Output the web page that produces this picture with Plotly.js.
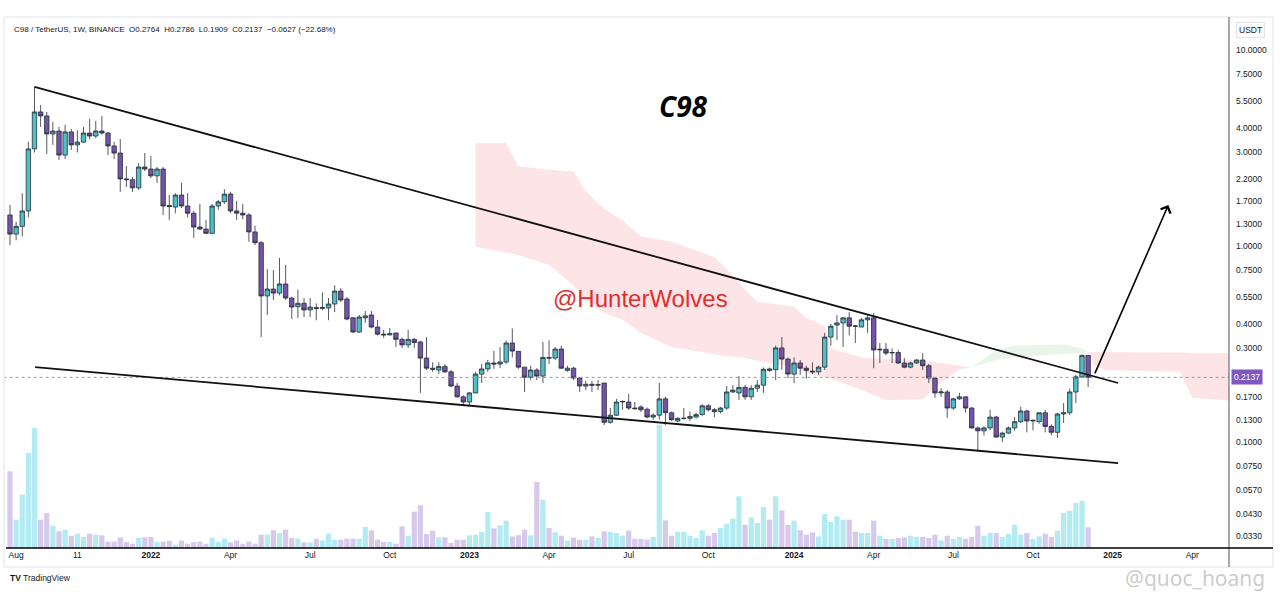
<!DOCTYPE html>
<html><head><meta charset="utf-8">
<script src="https://cdn.plot.ly/plotly-3.0.1.min.js"></script>
<style>html,body{margin:0;padding:0;background:#fff;}#chart{width:1280px;height:592px;}</style>
</head><body><div id="chart"></div>
<script>
// ---------- DATA (weekly candles, first bar = week of 2021-07-19) ----------
const firstWeekUTC = [2021, 6, 19];
const open = [1.44,1.15,1.26,1.51,3.13,4.83,4.61,3.73,3.86,2.91,
 3.82,3.28,3.39,3.77,3.64,3.86,3.77,3.24,2.98,2.20,
 2.18,1.98,2.53,2.47,2.28,2.47,1.61,1.58,1.82,1.60,
 1.47,1.25,1.22,1.16,1.60,1.68,1.84,1.51,1.47,1.44,
 1.18,1.04,0.556,0.603,0.575,0.64,0.543,0.49,0.51,0.472,
 0.485,0.48,0.483,0.506,0.589,0.536,0.43,0.364,0.43,0.445,
 0.386,0.355,0.352,0.36,0.334,0.313,0.334,0.324,0.268,0.238,
 0.233,0.243,0.228,0.193,0.17,0.16,0.178,0.222,0.236,0.253,
 0.25,0.256,0.32,0.29,0.241,0.214,0.233,0.217,0.27,0.268,
 0.298,0.232,0.238,0.212,0.193,0.197,0.195,0.20,0.126,0.137,
 0.16,0.16,0.149,0.151,0.147,0.134,0.137,0.166,0.141,0.128,
 0.132,0.132,0.134,0.138,0.153,0.146,0.143,0.149,0.18,0.178,
 0.19,0.17,0.188,0.195,0.236,0.234,0.302,0.265,0.222,0.253,
 0.238,0.23,0.228,0.241,0.343,0.395,0.405,0.43,0.391,0.386,
 0.42,0.43,0.295,0.297,0.285,0.286,0.253,0.241,0.253,0.262,
 0.245,0.212,0.178,0.18,0.149,0.166,0.17,0.149,0.118,0.114,
 0.118,0.134,0.106,0.111,0.118,0.127,0.144,0.128,0.127,0.141,
 0.12,0.112,0.139,0.141,0.18,0.215,0.2764];
const high = [1.62,1.33,1.86,3.40,6.48,5.24,4.83,4.29,4.05,4.15,
 3.95,3.90,4.05,4.45,4.35,4.60,3.82,3.40,3.51,2.56,
 2.25,2.65,2.98,2.88,2.53,2.53,1.82,1.86,2.10,1.86,
 1.51,1.64,1.36,1.64,1.72,1.95,1.89,1.70,1.64,1.47,
 1.27,1.06,0.763,0.754,0.869,0.80,0.55,0.60,0.543,0.543,
 0.51,0.58,0.543,0.63,0.61,0.55,0.434,0.445,0.466,0.466,
 0.42,0.373,0.382,0.36,0.34,0.373,0.34,0.328,0.343,0.255,
 0.255,0.25,0.233,0.20,0.173,0.18,0.228,0.25,0.262,0.292,
 0.305,0.33,0.38,0.29,0.241,0.245,0.238,0.324,0.33,0.305,
 0.31,0.245,0.242,0.214,0.205,0.205,0.207,0.20,0.149,0.166,
 0.163,0.176,0.16,0.154,0.15,0.14,0.20,0.17,0.143,0.134,
 0.149,0.143,0.141,0.156,0.156,0.149,0.151,0.193,0.195,0.217,
 0.195,0.195,0.207,0.24,0.24,0.31,0.343,0.27,0.27,0.262,
 0.245,0.255,0.245,0.36,0.40,0.445,0.434,0.46,0.395,0.43,
 0.445,0.455,0.32,0.32,0.30,0.295,0.268,0.256,0.265,0.284,
 0.25,0.214,0.188,0.184,0.168,0.178,0.17,0.151,0.12,0.12,
 0.146,0.136,0.113,0.12,0.134,0.151,0.146,0.13,0.141,0.146,
 0.123,0.141,0.158,0.187,0.22,0.28,0.2786];
const low = [1.01,1.07,1.12,1.40,3.00,4.05,2.95,3.28,2.75,2.78,
 3.09,3.00,3.35,3.50,3.55,3.70,2.91,2.78,1.89,2.00,
 1.89,1.93,2.41,2.22,2.10,1.44,1.36,1.47,1.56,1.40,
 1.10,1.21,1.15,1.15,1.53,1.64,1.47,1.36,1.37,1.05,
 1.01,0.343,0.445,0.53,0.56,0.53,0.424,0.43,0.434,0.434,
 0.418,0.47,0.418,0.46,0.518,0.418,0.36,0.36,0.405,0.38,
 0.35,0.34,0.35,0.305,0.302,0.302,0.302,0.178,0.233,0.228,
 0.222,0.225,0.19,0.168,0.154,0.154,0.177,0.20,0.228,0.236,
 0.238,0.25,0.27,0.236,0.18,0.207,0.207,0.20,0.25,0.262,
 0.236,0.228,0.207,0.18,0.184,0.18,0.184,0.122,0.124,0.136,
 0.146,0.146,0.146,0.142,0.132,0.13,0.13,0.122,0.128,0.126,
 0.13,0.128,0.132,0.136,0.143,0.134,0.14,0.146,0.178,0.164,
 0.164,0.164,0.18,0.178,0.228,0.207,0.234,0.212,0.20,0.22,
 0.21,0.222,0.22,0.233,0.31,0.331,0.305,0.35,0.32,0.386,
 0.36,0.238,0.253,0.277,0.253,0.25,0.238,0.238,0.25,0.233,
 0.20,0.168,0.17,0.133,0.146,0.164,0.141,0.117,0.091,0.108,
 0.115,0.105,0.10,0.11,0.114,0.125,0.112,0.115,0.124,0.112,
 0.108,0.105,0.125,0.137,0.158,0.212,0.1909];
const close = [1.15,1.26,1.51,3.13,4.83,4.61,3.73,3.86,2.91,3.82,
 3.28,3.39,3.77,3.64,3.86,3.77,3.24,2.98,2.20,2.18,
 1.98,2.53,2.47,2.28,2.47,1.60,1.59,1.82,1.60,1.47,
 1.25,1.22,1.16,1.60,1.68,1.84,1.51,1.47,1.44,1.18,
 1.04,0.556,0.603,0.575,0.64,0.543,0.488,0.51,0.472,0.488,
 0.48,0.485,0.506,0.589,0.53,0.424,0.364,0.434,0.44,0.386,
 0.355,0.352,0.357,0.334,0.313,0.334,0.322,0.268,0.238,0.235,
 0.243,0.228,0.193,0.17,0.16,0.178,0.222,0.236,0.253,0.25,
 0.256,0.32,0.291,0.241,0.214,0.233,0.217,0.27,0.268,0.298,
 0.238,0.238,0.212,0.193,0.197,0.195,0.196,0.126,0.137,0.16,
 0.161,0.149,0.148,0.146,0.134,0.137,0.166,0.141,0.13,0.132,
 0.132,0.135,0.138,0.153,0.146,0.143,0.149,0.18,0.184,0.19,
 0.17,0.188,0.195,0.235,0.232,0.302,0.265,0.222,0.253,0.238,
 0.232,0.228,0.241,0.343,0.39,0.405,0.43,0.39,0.39,0.42,
 0.43,0.295,0.297,0.284,0.286,0.253,0.241,0.253,0.262,0.245,
 0.212,0.178,0.18,0.149,0.166,0.17,0.149,0.118,0.114,0.118,
 0.134,0.106,0.111,0.118,0.127,0.144,0.128,0.129,0.141,0.12,
 0.112,0.139,0.141,0.18,0.215,0.2764,0.2137];
const volume = [230,85,160,285,360,85,105,67,50,55,
 37,43,33,43,40,38,19,19,32,18,
 13,30,32,33,18,19,22,10,22,13,
 18,19,13,31,19,28,17,23,13,19,
 13,40,40,53,45,55,30,28,17,17,
 28,23,43,25,25,28,28,28,63,53,
 25,18,19,13,65,37,109,128,42,52,
 32,32,15,25,25,38,40,48,108,59,
 68,82,35,38,55,38,198,145,60,47,
 37,22,31,25,25,35,30,50,48,45,
 37,52,28,27,25,33,370,83,37,49,
 49,37,30,53,37,45,60,73,88,155,
 70,92,75,123,85,155,113,69,82,53,
 40,47,35,102,78,95,85,85,49,45,
 45,82,37,27,27,30,32,37,33,33,
 30,40,23,37,27,33,28,33,67,37,
 45,45,33,43,70,40,45,27,35,43,
 33,52,105,112,135,142,62];

// Ichimoku cloud boundaries (week index from first bar, price)
const pinkCloudWeeks  = [76,81,83,88,92,94,97,100,103,108,112,115,117,120,122,128,130,133,134,139,143,149,151,155,157];
const pinkCloudTop    = [3.35,3.35,2.55,2.45,2.40,1.90,1.55,1.35,1.12,1.05,0.95,0.88,0.76,0.60,0.52,0.49,0.43,0.39,0.30,0.27,0.265,0.26,0.255,0.245,0.24];
const pinkCloudBottom = [0.99,0.93,0.90,0.80,0.63,0.53,0.455,0.42,0.36,0.305,0.29,0.28,0.275,0.268,0.26,0.24,0.225,0.215,0.21,0.184,0.164,0.165,0.19,0.235,0.24];
const greenCloudWeeks  = [157,159,161,164,172,175,176];
const greenCloudTop    = [0.24,0.265,0.295,0.31,0.315,0.30,0.288];
const greenCloudBottom = [0.24,0.25,0.262,0.27,0.28,0.285,0.288];
const pink2CloudWeeks  = [176,177,179,191,193,199];
const pink2CloudTop    = [0.288,0.288,0.288,0.286,0.284,0.284];
const pink2CloudBottom = [0.288,0.245,0.232,0.228,0.168,0.163];

// Drawn trend lines and arrow (week index, price)
const upperLineWeeks = [4, 180.9], upperLinePrices = [6.48, 0.20];
const lowerLineWeeks = [4.1, 180.9], lowerLinePrices = [0.241, 0.078];
const arrowWeeks = [177, 189.1], arrowPrices = [0.22, 1.62];

// Axis ticks
const priceTicks = [10,7.5,5.5,4,3,2.2,1.7,1.3,1,0.75,0.55,0.4,0.3,0.17,0.13,0.1,0.075,0.057,0.043,0.033];
const timeTickDates = ['2021-07-26','2021-10-04','2021-12-27','2022-03-28','2022-06-27','2022-09-26','2022-12-26','2023-03-27','2023-06-26','2023-09-25','2024-01-01','2024-04-01','2024-07-01','2024-09-30','2024-12-30','2025-03-31'];
const timeTickLabels = ['Aug','11','<b>2022</b>','Apr','Jul','Oct','<b>2023</b>','Apr','Jul','Oct','<b>2024</b>','Apr','Jul','Oct','<b>2025</b>','Apr'];

// ---------- helpers ----------
const BASE = Date.UTC(firstWeekUTC[0], firstWeekUTC[1], firstWeekUTC[2]);
function weekDate(i){ return new Date(BASE + i*7*86400000).toISOString().slice(0,19).replace('T',' '); }
const PX = x => (x-5)/1224, PY = y => (548-y)/530;
const dates = open.map((_,i)=>weekDate(i));
const UP='#4bc0c8', DOWN='#7453a9', VUP='#b2ebf2', VDOWN='#d6c9ec';
const FONT='Liberation Sans, Arial, sans-serif';
const yRange=[-1.5408, 1.1633];

const traces = [];
traces.push({type:'bar', x:dates, y:volume, xaxis:'x', yaxis:'y',
  marker:{color:close.map((c,i)=>c>=open[i]?VUP:VDOWN), line:{width:0}}, hoverinfo:'skip'});
function cloud(weeks, top, bottom, color){
  const xs = weeks.map(weekDate);
  traces.push({type:'scatter', mode:'lines', x:xs, y:bottom, xaxis:'x', yaxis:'y2', line:{width:0,color:'rgba(0,0,0,0)'}, hoverinfo:'skip'});
  traces.push({type:'scatter', mode:'lines', x:xs, y:top, xaxis:'x', yaxis:'y2', line:{width:0,color:'rgba(0,0,0,0)'}, fill:'tonexty', fillcolor:color, hoverinfo:'skip'});
}
cloud(pinkCloudWeeks, pinkCloudTop, pinkCloudBottom, 'rgba(242,54,69,0.13)');
cloud(greenCloudWeeks, greenCloudTop, greenCloudBottom, 'rgba(76,175,80,0.13)');
cloud(pink2CloudWeeks, pink2CloudTop, pink2CloudBottom, 'rgba(242,54,69,0.13)');

const lastClose = close[close.length-1], lastOpen = open[open.length-1];
const prevClose = close[close.length-2];
traces.push({type:'scatter', mode:'lines', x:[weekDate(-3), weekDate(240)], y:[lastClose,lastClose], xaxis:'x', yaxis:'y3',
  line:{color:'#9598a1', width:1, dash:'dot'}, hoverinfo:'skip'});
traces.push({type:'candlestick', x:dates, open:open, high:high, low:low, close:close, xaxis:'x', yaxis:'y3',
  increasing:{line:{color:'#2a2e39', width:0.8}, fillcolor:UP},
  decreasing:{line:{color:'#2a2e39', width:0.8}, fillcolor:DOWN},
  whiskerwidth:0, hoverinfo:'skip'});
traces.push({type:'scatter', mode:'lines', x:upperLineWeeks.map(weekDate), y:upperLinePrices, xaxis:'x', yaxis:'y3', line:{color:'#111', width:1.8}, hoverinfo:'skip'});
traces.push({type:'scatter', mode:'lines', x:lowerLineWeeks.map(weekDate), y:lowerLinePrices, xaxis:'x', yaxis:'y3', line:{color:'#111', width:1.8}, hoverinfo:'skip'});

const chg = lastClose - prevClose, pct = chg/prevClose*100;
const nb = '\u00a0\u00a0';
const header = 'C98 / TetherUS, 1W, BINANCE' + nb + 'O' + lastOpen.toFixed(4) + nb + 'H' + high[high.length-1].toFixed(4) + nb + 'L' + low[low.length-1].toFixed(4) + nb + 'C' + lastClose.toFixed(4) + nb + '\u2212' + Math.abs(chg).toFixed(4) + ' (\u2212' + Math.abs(pct).toFixed(2) + '%)';

const layout = {
  width:1280, height:592, margin:{l:5, r:51, t:18, b:44},
  paper_bgcolor:'#ffffff', plot_bgcolor:'#ffffff', showlegend:false,
  bargap:0.15, boxgap:0.2, boxgroupgap:0.1,
  xaxis:{type:'date', range:['2021-07-13 07:00','2025-05-12'], rangeslider:{visible:false},
    tickmode:'array', tickvals:timeTickDates, ticktext:timeTickLabels, showgrid:false, zeroline:false, showline:false,
    ticks:'', tickfont:{family:FONT, size:8.5, color:'#131722'}, fixedrange:true},
  yaxis:{range:[0,1590], visible:false, fixedrange:true},
  yaxis2:{type:'log', overlaying:'y', range:yRange, visible:false, fixedrange:true},
  yaxis3:{type:'log', overlaying:'y', side:'right', range:yRange, tickmode:'array', tickvals:priceTicks,
    ticktext:priceTicks.map(v=>v.toFixed(4)), showgrid:false, zeroline:false, showline:false, ticks:'',
    ticklabelstandoff:6, tickfont:{family:FONT, size:8.5, color:'#131722'}, fixedrange:true},
  shapes:[
    {type:'rect', xref:'paper', yref:'paper', x0:PX(4), x1:PX(1273), y0:PY(567), y1:PY(17), line:{color:'#e0e3eb', width:1}},
    {type:'line', xref:'paper', yref:'paper', x0:PX(1229), x1:PX(1229), y0:PY(567), y1:PY(17), line:{color:'#50535e', width:1}},
    {type:'line', xref:'paper', yref:'paper', x0:PX(6), x1:PX(1273), y0:0, y1:0, line:{color:'#000', width:1.5}}
  ],
  annotations:[
    {xref:'paper', yref:'paper', x:PX(12), y:PY(29), xanchor:'left', yanchor:'middle', showarrow:false, text:header, font:{family:FONT, size:8, color:'#131722'}},
    {xref:'paper', yref:'paper', x:PX(1250), y:PY(30), xanchor:'center', yanchor:'middle', showarrow:false, text:'USDT', bordercolor:'#e0e3eb', borderwidth:1, borderpad:2, font:{family:FONT, size:8.5, color:'#131722'}},
    {xref:'paper', yref:'y3', x:PX(1231), y:Math.log10(lastClose), xanchor:'left', yanchor:'middle', showarrow:false, text:lastClose.toFixed(4), bgcolor:'#7e57c2', borderpad:2, font:{family:FONT, size:8.5, color:'#ffffff'}},
    {xref:'paper', yref:'paper', x:PX(683), y:PY(106), xanchor:'center', yanchor:'middle', showarrow:false, text:'<b><i>C98</i></b>', font:{family:'Open Sans, sans-serif', size:28, color:'#000'}},
    {xref:'paper', yref:'paper', x:PX(640), y:PY(298), xanchor:'center', yanchor:'middle', showarrow:false, text:'@HunterWolves', font:{family:FONT, size:24, color:'#e02d2d'}},
    {xref:'x', yref:'y3', axref:'x', ayref:'y3', x:weekDate(arrowWeeks[1]), y:Math.log10(arrowPrices[1]), ax:weekDate(arrowWeeks[0]), ay:Math.log10(arrowPrices[0]),
      showarrow:true, arrowhead:4, arrowsize:1.3, arrowwidth:1.6, arrowcolor:'#000', text:'', standoff:0, startstandoff:0},
    {xref:'paper', yref:'paper', x:PX(8), y:PY(578), xanchor:'left', yanchor:'middle', showarrow:false, text:'<b>TV</b> TradingView', font:{family:FONT, size:8.5, color:'#131722'}},
    {xref:'paper', yref:'paper', x:PX(1195), y:PY(578), xanchor:'center', yanchor:'middle', showarrow:false, text:'@quoc_hoang', font:{family:'Noto Sans, sans-serif', size:21, color:'rgba(160,160,160,0.55)'}}
  ]
};
Plotly.newPlot('chart', traces, layout, {staticPlot:true, displayModeBar:false});
</script></body></html>
